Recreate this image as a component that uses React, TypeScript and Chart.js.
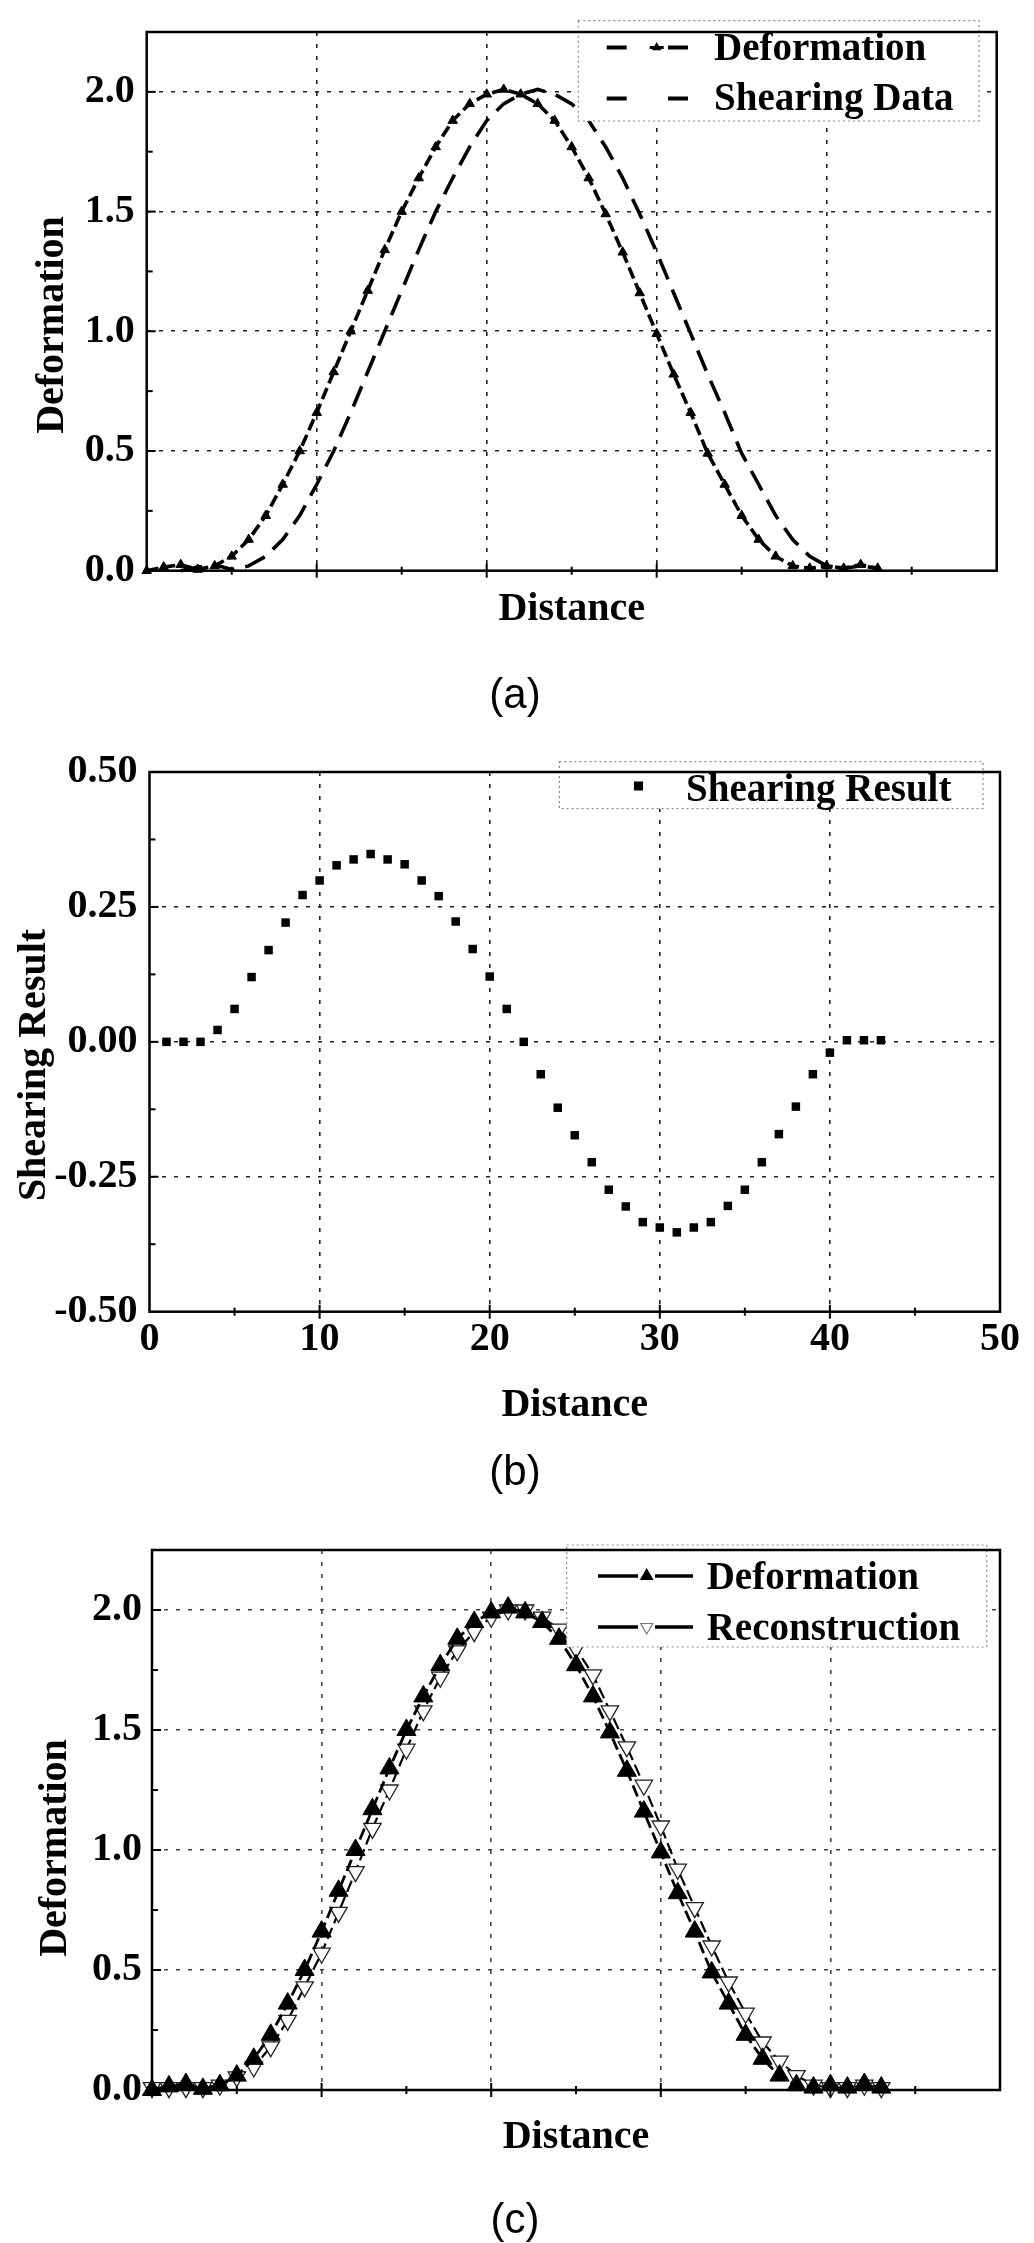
import React, { useEffect, useRef } from 'react';
import { Chart, registerables } from 'chart.js';

Chart.register(...registerables);

// ---------------- data ----------------
const distance = [0, 1, 2, 3, 4, 5, 6, 7, 8, 9, 10, 11, 12, 13, 14, 15, 16, 17, 18, 19, 20, 21,
  22, 23, 24, 25, 26, 27, 28, 29, 30, 31, 32, 33, 34, 35, 36, 37, 38, 39, 40, 41, 42, 43];

const deformation = [0.0, 0.015, 0.025, 0.005, 0.02, 0.06, 0.13, 0.23, 0.36, 0.5, 0.66, 0.83,
  1.0, 1.17, 1.34, 1.5, 1.64, 1.77, 1.88, 1.95, 1.99, 2.01, 1.99, 1.95, 1.88, 1.77, 1.64, 1.49,
  1.33, 1.16, 0.99, 0.82, 0.66, 0.49, 0.36, 0.23, 0.13, 0.06, 0.02, 0.01, 0.02, 0.01, 0.025, 0.01];

const shearingDataDistance = [2, 3, 4, 5, 6, 7, 8, 9, 10, 11, 12, 13, 14, 15, 16, 17, 18, 19, 20,
  21, 22, 23, 24, 25, 26, 27, 28, 29, 30, 31, 32, 33, 34, 35, 36, 37, 38, 39, 40, 41, 42, 43];

const shearingData = [0.0, 0.015, 0.025, 0.005, 0.02, 0.06, 0.13, 0.23, 0.36, 0.5, 0.66, 0.83,
  1.0, 1.17, 1.34, 1.5, 1.64, 1.77, 1.88, 1.95, 1.99, 2.01, 1.99, 1.95, 1.88, 1.77, 1.64, 1.49,
  1.33, 1.16, 0.99, 0.82, 0.66, 0.49, 0.36, 0.23, 0.13, 0.06, 0.02, 0.01, 0.02, 0.01];

const shearingResultDistance = [1, 2, 3, 4, 5, 6, 7, 8, 9, 10, 11, 12, 13, 14, 15, 16, 17, 18, 19,
  20, 21, 22, 23, 24, 25, 26, 27, 28, 29, 30, 31, 32, 33, 34, 35, 36, 37, 38, 39, 40, 41, 42, 43];

const shearingResult = [0.0, 0.0, 0.0, 0.022, 0.061, 0.12, 0.17, 0.221, 0.272, 0.299, 0.327,
  0.338, 0.348, 0.338, 0.329, 0.299, 0.27, 0.223, 0.172, 0.121, 0.061, 0.0, -0.06, -0.122,
  -0.173, -0.223, -0.274, -0.305, -0.334, -0.344, -0.353, -0.344, -0.334, -0.304, -0.274,
  -0.223, -0.171, -0.12, -0.06, -0.02, 0.003, 0.003, 0.003];

const reconstruction = [0.01, 0.01, 0.01, 0.01, 0.02, 0.055, 0.096, 0.18, 0.29, 0.43, 0.57, 0.74,
  0.91, 1.09, 1.25, 1.42, 1.58, 1.72, 1.83, 1.91, 1.97, 2.0, 2.0, 1.97, 1.92, 1.84, 1.73, 1.58,
  1.43, 1.27, 1.1, 0.92, 0.76, 0.6, 0.45, 0.32, 0.2, 0.12, 0.06, 0.02, 0.01, 0.01, 0.02, 0.01];

const distanceTicks = [0, 10, 20, 30, 40, 50];
const distanceMinorTicks = [5, 15, 25, 35, 45];
const deformationTicks = [0, 0.5, 1.0, 1.5, 2.0];
const deformationMinorTicks = [0.25, 0.75, 1.25, 1.75];
const shearTicks = [-0.5, -0.25, 0, 0.25, 0.5];
const shearMinorTicks = [-0.375, -0.125, 0.125, 0.375];

// ---------------- styling / layout ----------------
const SERIF = '"Liberation Serif", "Times New Roman", Times, serif';
const SANS = '"Liberation Sans", Arial, Helvetica, sans-serif';
const PAGE_W = 1034;

type Area = { left: number; top: number; right: number; bottom: number };
type Row = { y: number; baseline: number; text: string; sample: string };
type Legend = {
  x1: number; y1: number; x2: number; y2: number; textX: number;
  s1: number[]; s2: number[]; mark: number; rows: Row[];
};
type Panel = {
  top: number; height: number; area: Area;
  yMin: number; yMax: number; yTicks: number[]; yMinor: number[]; yDecimals: number;
  yPad: number; showXLabels: boolean;
  yTitle: string; yTitleX: number; yTitleCenter: number; xTitleBaseline: number;
  label: string; labelBaseline: number; gridColor: string;
  legend: Legend; datasets: any[];
};

function pts(xs: number[], ys: number[]) {
  return xs.map((x, i) => ({ x, y: ys[i] }));
}

function triangle(ctx: CanvasRenderingContext2D, x: number, y: number, r: number, down: boolean) {
  const s = down ? -1 : 1;
  ctx.beginPath();
  ctx.moveTo(x, y - s * r);
  ctx.lineTo(x + r * 0.866, y + s * r * 0.5);
  ctx.lineTo(x - r * 0.866, y + s * r * 0.5);
  ctx.closePath();
}

function seg(ctx: CanvasRenderingContext2D, a: number, b: number, y: number) {
  ctx.beginPath();
  ctx.moveTo(a, y);
  ctx.lineTo(b, y);
  ctx.stroke();
}

function seg2(ctx: CanvasRenderingContext2D, x1: number, y1: number, x2: number, y2: number) {
  ctx.beginPath();
  ctx.moveTo(x1, y1);
  ctx.lineTo(x2, y2);
  ctx.stroke();
}

function drawLegend(ctx: CanvasRenderingContext2D, L: Legend) {
  ctx.save();
  ctx.fillStyle = '#fff';
  ctx.fillRect(L.x1, L.y1, L.x2 - L.x1, L.y2 - L.y1);
  ctx.strokeStyle = '#8a8a8a';
  ctx.lineWidth = 1.2;
  ctx.setLineDash([2, 3]);
  ctx.strokeRect(L.x1, L.y1, L.x2 - L.x1, L.y2 - L.y1);
  ctx.setLineDash([]);
  for (const row of L.rows) {
    ctx.strokeStyle = '#000';
    ctx.fillStyle = '#000';
    if (row.sample === 'dashTri') {
      ctx.lineWidth = 4;
      seg(ctx, L.s1[0], L.s1[1], row.y);
      seg(ctx, L.s2[0], L.s2[1], row.y);
      ctx.lineWidth = 3;
      seg(ctx, L.mark - 7, L.mark + 7, row.y);
      triangle(ctx, L.mark, row.y, 5.5, false);
      ctx.fill();
    } else if (row.sample === 'dash') {
      ctx.lineWidth = 4;
      seg(ctx, L.s1[0], L.s1[1], row.y);
      seg(ctx, L.s2[0], L.s2[1], row.y);
    } else if (row.sample === 'square') {
      ctx.fillRect(L.mark - 4.5, row.y - 4.5, 9, 9);
    } else if (row.sample === 'lineTri') {
      ctx.lineWidth = 3.5;
      seg(ctx, L.s1[0], L.s1[1], row.y);
      seg(ctx, L.s2[0], L.s2[1], row.y);
      triangle(ctx, L.mark, row.y, 8, false);
      ctx.fill();
    } else if (row.sample === 'lineTriDown') {
      ctx.lineWidth = 3.5;
      seg(ctx, L.s1[0], L.s1[1], row.y);
      seg(ctx, L.s2[0], L.s2[1], row.y);
      triangle(ctx, L.mark, row.y, 7, true);
      ctx.strokeStyle = '#777';
      ctx.lineWidth = 1.2;
      ctx.stroke();
    }
    ctx.fillStyle = '#000';
    ctx.font = `bold 39px ${SERIF}`;
    ctx.textAlign = 'left';
    ctx.textBaseline = 'alphabetic';
    ctx.fillText(row.text, L.textX, row.baseline);
  }
  ctx.restore();
}

function decorPlugin(p: Panel) {
  return {
    id: 'decor',
    afterDraw(chart: any) {
      const ctx: CanvasRenderingContext2D = chart.ctx;
      const a = chart.chartArea;
      const xs = chart.scales.x;
      const ys = chart.scales.y;
      drawLegend(ctx, p.legend);
      ctx.save();
      ctx.setLineDash([]);
      ctx.strokeStyle = '#000';
      ctx.lineWidth = 2.5;
      ctx.strokeRect(a.left, a.top, a.right - a.left, a.bottom - a.top);
      // tick marks
      ctx.lineWidth = 2;
      for (const v of distanceTicks) {
        if (v <= xs.min || v >= xs.max) continue;
        const px = xs.getPixelForValue(v);
        seg2(ctx, px, a.bottom - 7, px, a.bottom + 7);
      }
      for (const v of distanceMinorTicks) {
        const px = xs.getPixelForValue(v);
        seg2(ctx, px, a.bottom - 4, px, a.bottom + 4);
      }
      for (const v of p.yTicks) {
        if (v <= ys.min || v >= ys.max) continue;
        const py = ys.getPixelForValue(v);
        seg2(ctx, a.left, py, a.left + 9, py);
      }
      for (const v of p.yMinor) {
        const py = ys.getPixelForValue(v);
        seg2(ctx, a.left, py, a.left + 6, py);
      }
      // titles
      ctx.fillStyle = '#000';
      ctx.font = `bold 40px ${SERIF}`;
      ctx.textAlign = 'center';
      ctx.textBaseline = 'alphabetic';
      ctx.fillText('Distance', (a.left + a.right) / 2, p.xTitleBaseline);
      ctx.save();
      ctx.translate(p.yTitleX, p.yTitleCenter);
      ctx.rotate(-Math.PI / 2);
      ctx.fillText(p.yTitle, 0, 0);
      ctx.restore();
      ctx.font = `42px ${SANS}`;
      ctx.fillText(p.label, 515, p.labelBaseline);
      ctx.restore();
    },
  };
}

const panels: Panel[] = [
  {
    top: 0, height: 740,
    area: { left: 146.7, top: 20.7, right: 996.7, bottom: 570.7 },
    yMin: 0, yMax: 2.25, yTicks: deformationTicks, yMinor: deformationMinorTicks, yDecimals: 1,
    yPad: 12, showXLabels: false,
    yTitle: 'Deformation', yTitleX: 63, yTitleCenter: 325, xTitleBaseline: 620,
    label: '(a)', labelBaseline: 708, gridColor: '#222',
    legend: {
      x1: 578.3, y1: 20.7, x2: 979, y2: 121, textX: 714,
      s1: [606.7, 626.7], s2: [668, 688], mark: 656.7,
      rows: [
        { y: 47.5, baseline: 60, text: 'Deformation', sample: 'dashTri' },
        { y: 98.5, baseline: 110, text: 'Shearing Data', sample: 'dash' },
      ],
    },
    datasets: [
      {
        label: 'Deformation', data: pts(distance, deformation),
        borderColor: '#000', backgroundColor: '#000', borderWidth: 3.6, borderDash: [12, 5],
        pointStyle: 'triangle', pointRadius: 5.5, pointBackgroundColor: '#000',
        pointBorderColor: '#000', pointBorderWidth: 1, clip: false,
      },
      {
        label: 'Shearing Data', data: pts(shearingDataDistance, shearingData),
        borderColor: '#000', borderWidth: 3.6, borderDash: [22, 11], pointRadius: 0, clip: false,
      },
    ],
  },
  {
    top: 740, height: 780,
    area: { left: 149.5, top: 21.7, right: 1000, bottom: 571.7 },
    yMin: -0.5, yMax: 0.5, yTicks: shearTicks, yMinor: shearMinorTicks, yDecimals: 2,
    yPad: 12, showXLabels: true,
    yTitle: 'Shearing Result', yTitleX: 45, yTitleCenter: 325, xTitleBaseline: 675.5,
    label: '(b)', labelBaseline: 744.5, gridColor: '#222',
    legend: {
      x1: 559.4, y1: 21.7, x2: 983, y2: 68.7, textX: 686,
      s1: [0, 0], s2: [0, 0], mark: 638.5,
      rows: [{ y: 46, baseline: 61, text: 'Shearing Result', sample: 'square' }],
    },
    datasets: [
      {
        label: 'Shearing Result', data: pts(shearingResultDistance, shearingResult),
        showLine: false, pointStyle: 'rect', pointRadius: 6,
        pointBackgroundColor: '#000', pointBorderColor: '#000', pointBorderWidth: 0,
        borderColor: '#000', backgroundColor: '#000', clip: false,
      },
    ],
  },
  {
    top: 1520, height: 723,
    area: { left: 152, top: 25, right: 1000, bottom: 570 },
    yMin: 0, yMax: 2.25, yTicks: deformationTicks, yMinor: deformationMinorTicks, yDecimals: 1,
    yPad: 10, showXLabels: false,
    yTitle: 'Deformation', yTitleX: 66, yTitleCenter: 328, xTitleBaseline: 628,
    label: '(c)', labelBaseline: 713, gridColor: '#444',
    legend: {
      x1: 566.7, y1: 25, x2: 986.7, y2: 127, textX: 706.7,
      s1: [598, 638], s2: [655, 693], mark: 646.7,
      rows: [
        { y: 56, baseline: 69, text: 'Deformation', sample: 'lineTri' },
        { y: 107, baseline: 120, text: 'Reconstruction', sample: 'lineTriDown' },
      ],
    },
    datasets: [
      {
        label: 'Deformation', data: pts(distance, deformation), order: 0,
        borderColor: '#000', backgroundColor: '#000', borderWidth: 2.8, borderDash: [12, 5],
        pointStyle: 'triangle', pointRadius: 11, pointBackgroundColor: '#000',
        pointBorderColor: '#000', pointBorderWidth: 1, clip: false,
      },
      {
        label: 'Reconstruction', data: pts(distance, reconstruction), order: 1,
        borderColor: '#000', backgroundColor: '#fff', borderWidth: 2.2, borderDash: [12, 5],
        pointStyle: 'triangle', pointRotation: 180, pointRadius: 10,
        pointBackgroundColor: '#fff', pointBorderColor: '#222', pointBorderWidth: 1.3, clip: false,
      },
    ],
  },
];

function PanelChart({ p }: { p: Panel }) {
  const ref = useRef<HTMLCanvasElement | null>(null);
  useEffect(() => {
    const canvas = ref.current;
    if (!canvas) return;
    const tickFont = { family: SERIF, size: 40, weight: 'bold' as const, lineHeight: 1 };
    const gridColorX = (c: any) =>
      c.tick && c.tick.value > 0 && c.tick.value < 50 ? p.gridColor : 'rgba(0,0,0,0)';
    const gridColorY = (c: any) =>
      c.tick && c.tick.value > p.yMin && c.tick.value < p.yMax ? p.gridColor : 'rgba(0,0,0,0)';
    const chart = new Chart(canvas, {
      type: 'line',
      data: { datasets: p.datasets },
      options: {
        responsive: false,
        animation: false,
        devicePixelRatio: 1,
        events: [],
        layout: {
          autoPadding: false,
          padding: { left: 0, top: p.area.top, right: PAGE_W - p.area.right, bottom: 0 },
        },
        plugins: {
          legend: { display: false },
          tooltip: { enabled: false },
          title: { display: false },
        },
        scales: {
          x: {
            type: 'linear',
            min: 0,
            max: 50,
            afterFit: (s: any) => { s.height = p.height - p.area.bottom; },
            afterBuildTicks: (s: any) => { s.ticks = distanceTicks.map((v) => ({ value: v })); },
            grid: { color: gridColorX, lineWidth: 1.6, drawTicks: false },
            border: { display: false, dash: [4, 8] },
            ticks: {
              display: p.showXLabels,
              padding: 8,
              color: '#000',
              font: tickFont,
              maxRotation: 0,
              autoSkip: false,
              callback: (v: any) => String(v),
            },
          },
          y: {
            type: 'linear',
            min: p.yMin,
            max: p.yMax,
            afterFit: (s: any) => { s.width = p.area.left; },
            afterBuildTicks: (s: any) => { s.ticks = p.yTicks.map((v) => ({ value: v })); },
            grid: { color: gridColorY, lineWidth: 1.6, drawTicks: false },
            border: { display: false, dash: [4, 8] },
            ticks: {
              padding: p.yPad,
              color: '#000',
              font: tickFont,
              autoSkip: false,
              callback: (v: any) => Number(v).toFixed(p.yDecimals),
            },
          },
        },
      } as any,
      plugins: [decorPlugin(p)],
    });
    return () => chart.destroy();
  }, [p]);
  return (
    <canvas
      ref={ref}
      width={PAGE_W}
      height={p.height}
      style={{ position: 'absolute', left: 0, top: p.top, width: PAGE_W, height: p.height, display: 'block' }}
    />
  );
}

export default function App() {
  return (
    <div style={{ position: 'absolute', left: 0, top: 0, width: PAGE_W, height: 2243, background: '#fff', overflow: 'hidden' }}>
      {panels.map((p, i) => (
        <PanelChart key={i} p={p} />
      ))}
    </div>
  );
}
